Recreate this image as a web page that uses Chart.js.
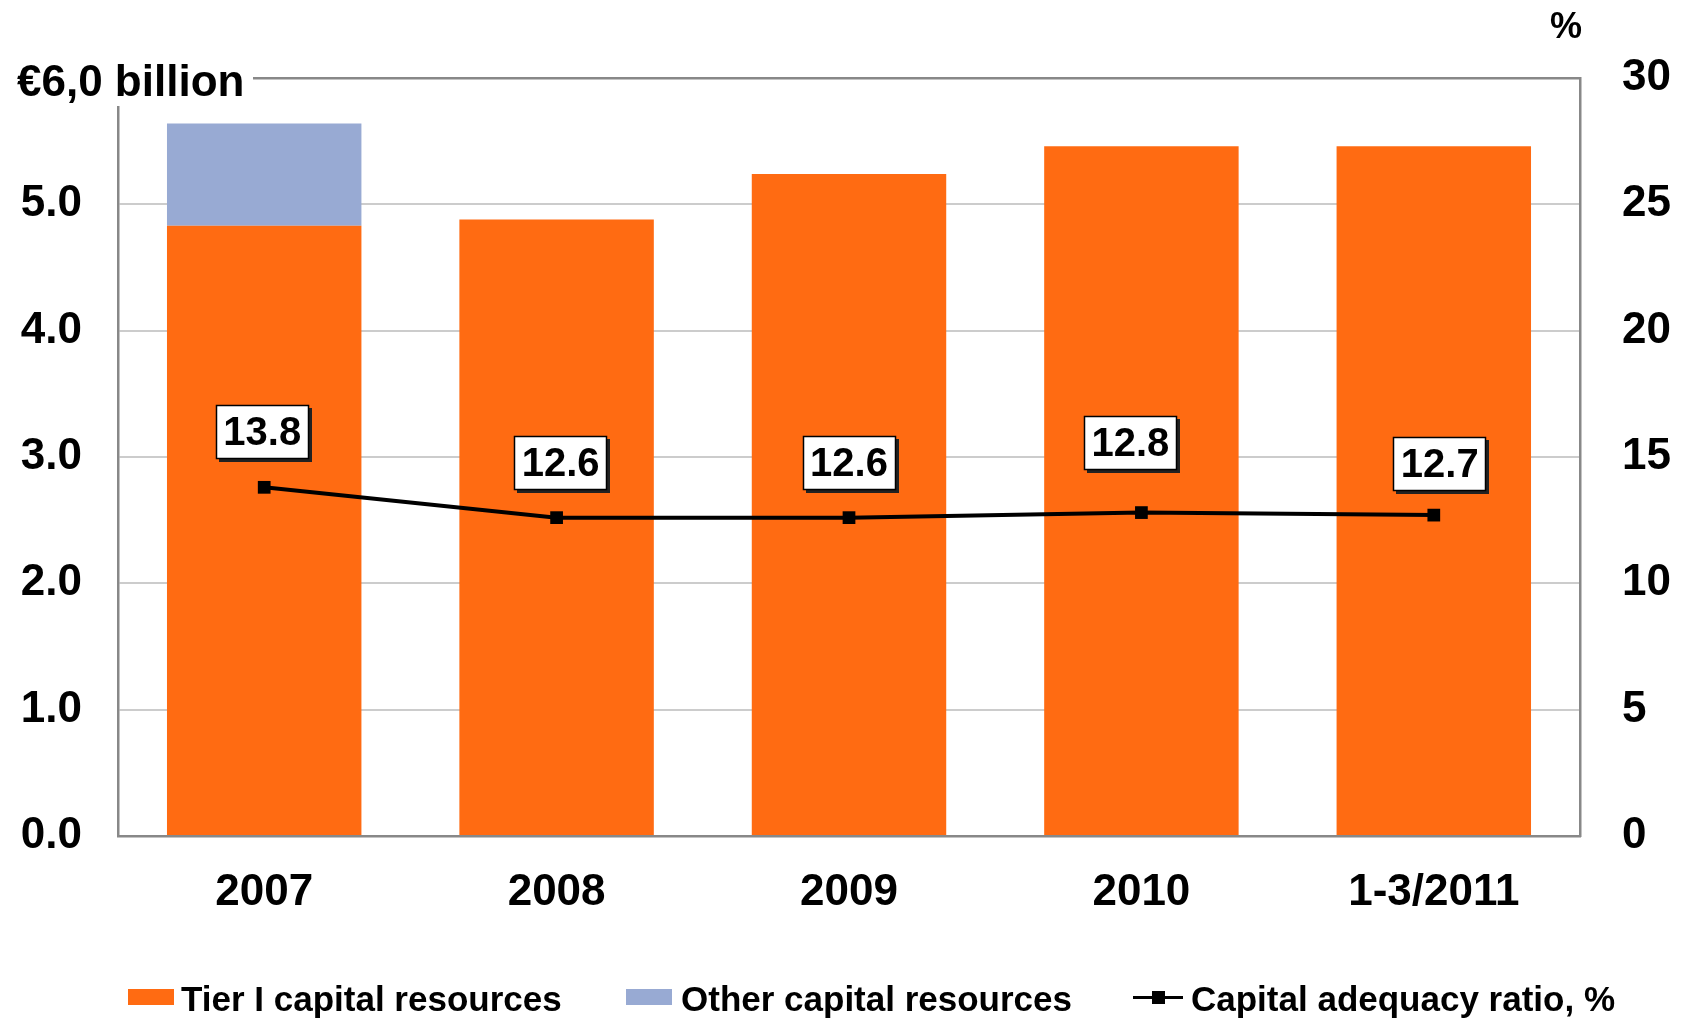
<!DOCTYPE html>
<html>
<head>
<meta charset="utf-8">
<script src="https://cdn.jsdelivr.net/npm/chart.js@4.4.1/dist/chart.umd.min.js"></script>
<style>
  html, body { margin: 0; padding: 0; background: #fff; }
</style>
</head>
<body>
<canvas id="capitalChart" width="1684" height="1020"></canvas>
<script>
// data
const years = ["2007", "2008", "2009", "2010", "1-3/2011"];
const tierOne = [4.83, 4.88, 5.24, 5.46, 5.46];
const otherCapital = [0.81, 0, 0, 0, 0];
const adequacyRatio = [13.8, 12.6, 12.6, 12.8, 12.7];
const leftTicks = [0, 1, 2, 3, 4, 5, 6];
const rightTicks = [0, 5, 10, 15, 20, 25, 30];

const ORANGE = "#FF6B12";
const BLUE = "#98AAD3";
const FRAME = "#888888";
const GRID = "#cccccc";
const FONT = "'Liberation Sans', Arial, sans-serif";

// nudges for the value boxes (they are not all at the same height)
const boxNudge = [[-2, -55], [4, -55], [0, -55], [-11, -70], [6, -51]];
// where each legend entry starts (swatch left edge, text left edge)
const legendSlots = [[128, 181], [626, 681], [1133, 1191]];

const extraText = {
  id: "extraText",
  afterDraw(chart) {
    const ctx = chart.ctx;
    ctx.save();
    // unit label on top-left, covers the frame corner
    ctx.fillStyle = "#fff";
    ctx.fillRect(0, 40, 253, 66);
    ctx.fillStyle = "#000";
    ctx.font = "bold 44px " + FONT;
    ctx.textAlign = "left";
    ctx.textBaseline = "alphabetic";
    ctx.fillText("€6,0 billion", 17, 96);
    // percent sign over right axis
    ctx.font = "bold 36px " + FONT;
    ctx.textAlign = "center";
    ctx.fillText("%", 1566, 38);

    // legend row
    ctx.font = "bold 35px " + FONT;
    ctx.textAlign = "left";
    chart.data.datasets.forEach((ds, i) => {
      const [bx, tx] = legendSlots[i];
      if (ds.type === "line") {
        ctx.fillStyle = ds.borderColor;
        ctx.fillRect(bx, 996, 50, 3);
        ctx.fillRect(bx + 19, 991, 13, 13);
      } else {
        ctx.fillStyle = ds.backgroundColor;
        ctx.fillRect(bx, 989, 46, 16);
      }
      ctx.fillStyle = "#000";
      ctx.fillText(ds.label, tx, 1011);
    });
    ctx.restore();
  },
  afterDatasetsDraw(chart) {
    const ctx = chart.ctx;
    const meta = chart.getDatasetMeta(2);
    ctx.save();
    ctx.font = "bold 40px " + FONT;
    ctx.textAlign = "center";
    ctx.textBaseline = "middle";
    meta.data.forEach((pt, i) => {
      const w = 93, h = 54;
      const cx = pt.x + boxNudge[i][0];
      const cy = pt.y + boxNudge[i][1];
      const x = Math.round(cx - w / 2), y = Math.round(cy - h / 2);
      ctx.fillStyle = "#222";
      ctx.fillRect(x + 3, y + 3, w, h);
      ctx.fillStyle = "#fff";
      ctx.fillRect(x, y, w, h);
      ctx.strokeStyle = "#000";
      ctx.lineWidth = 1.5;
      ctx.strokeRect(x + 0.5, y + 0.5, w - 1, h - 1);
      ctx.fillStyle = "#000";
      ctx.fillText(adequacyRatio[i].toFixed(1), cx, cy + 2);
    });
    ctx.restore();
  }
};

const ctx = document.getElementById("capitalChart").getContext("2d");
new Chart(ctx, {
  type: "bar",
  data: {
    labels: years,
    datasets: [{
      label: "Tier I capital resources",
      data: tierOne,
      backgroundColor: ORANGE,
      borderWidth: 0,
      yAxisID: "y",
      order: 1
    }, {
      label: "Other capital resources",
      data: otherCapital,
      backgroundColor: BLUE,
      borderWidth: 0,
      yAxisID: "y",
      order: 2
    }, {
      type: "line",
      label: "Capital adequacy ratio, %",
      data: adequacyRatio,
      borderColor: "#000",
      backgroundColor: "#000",
      borderWidth: 4,
      pointStyle: "rect",
      pointRadius: 9,
      pointBackgroundColor: "#000",
      pointBorderWidth: 0,
      tension: 0,
      yAxisID: "y1",
      order: 0
    }]
  },
  options: {
    responsive: false,
    devicePixelRatio: 1,
    animation: false,
    layout: { padding: { top: 78, right: 0, bottom: 74, left: 0 } },
    datasets: {
      bar: { barPercentage: 1, categoryPercentage: 0.665 }
    },
    plugins: {
      tooltip: { enabled: false },
      legend: { display: false }
    },
    scales: {
      x: {
        stacked: true,
        grid: { display: false, drawTicks: false },
        border: { color: FRAME, width: 2.5 },
        ticks: {
          color: "#000",
          padding: 30,
          font: { family: FONT, size: 44, weight: "bold" }
        },
        afterFit: (s) => { s.height = 110; }
      },
      y: {
        stacked: true,
        position: "left",
        min: 0,
        max: 6,
        afterBuildTicks: (s) => { s.ticks = leftTicks.map(v => ({ value: v })); },
        afterFit: (s) => { s.width = 118; },
        grid: {
          drawTicks: false,
          color: (c) => c.tick && c.tick.value === 6 ? FRAME : GRID,
          lineWidth: (c) => c.tick && c.tick.value === 6 ? 2.5 : 2
        },
        border: { color: FRAME, width: 2.5 },
        ticks: {
          color: "#000",
          padding: 36,
          font: { family: FONT, size: 44, weight: "bold" },
          callback: (v) => v === 6 ? "" : Number(v).toFixed(1)
        }
      },
      y1: {
        position: "right",
        min: 0,
        max: 30,
        afterBuildTicks: (s) => { s.ticks = rightTicks.map(v => ({ value: v })); },
        afterFit: (s) => { s.width = 104; },
        grid: { display: false, drawTicks: false },
        border: { color: FRAME, width: 2.5 },
        ticks: {
          color: "#000",
          padding: 42,
          font: { family: FONT, size: 44, weight: "bold" }
        }
      }
    }
  },
  plugins: [extraText]
});
</script>
</body>
</html>
